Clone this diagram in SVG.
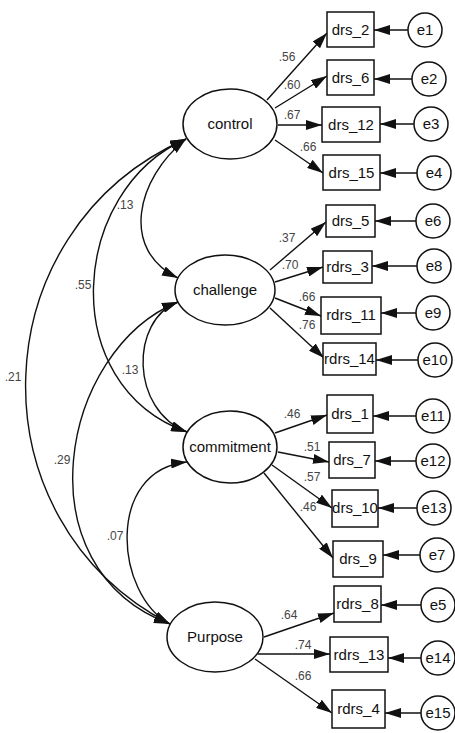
<svg xmlns="http://www.w3.org/2000/svg" width="455" height="733" viewBox="0 0 455 733">
<style>
.lv{fill:#fff;stroke:#111;stroke-width:1.5}
.ov{fill:#fff;stroke:#111;stroke-width:1.5}
.er{fill:#fff;stroke:#111;stroke-width:1.5}
.t{font-family:"Liberation Sans",Arial,sans-serif;font-size:15px;fill:#111;text-anchor:middle}
.c{font-family:"Liberation Sans",Arial,sans-serif;font-size:12px;fill:#444;text-anchor:middle}
.a{fill:none;stroke:#111;stroke-width:1.4;marker-end:url(#ah)}
.cv{fill:none;stroke:#111;stroke-width:1.4;marker-start:url(#ah);marker-end:url(#ah)}
</style>
<defs>
<marker id="ah" markerUnits="userSpaceOnUse" viewBox="0 0 16 10" refX="16" refY="5" markerWidth="16" markerHeight="10" orient="auto-start-reverse">
<path d="M0,0 L16,5 L0,10 z" fill="#111"/>
</marker>
</defs>
<rect width="455" height="733" fill="#fff"/>
<g id="connectors">
<path class="cv" d="M186,139 C136,179 120,250 178,278"/>
<path class="cv" d="M186,139 C70,190 55,385 187,432"/>
<path class="cv" d="M186,139 C-20,230 -30,520 170,624"/>
<path class="cv" d="M178,302 C130,320 130,410 187,432"/>
<path class="cv" d="M178,302 C60,350 20,568 170,624"/>
<path class="cv" d="M187,462 C105,470 115,595 170,624"/>
<line class="a" x1="267" y1="100" x2="327" y2="33"/>
<line class="a" x1="275" y1="108" x2="327" y2="76"/>
<line class="a" x1="278" y1="125" x2="322" y2="125"/>
<line class="a" x1="275" y1="140" x2="323" y2="173"/>
<line class="a" x1="270" y1="270" x2="326" y2="222"/>
<line class="a" x1="275" y1="282" x2="323" y2="267"/>
<line class="a" x1="275" y1="298" x2="321" y2="316"/>
<line class="a" x1="270" y1="308" x2="324" y2="358"/>
<line class="a" x1="275" y1="433" x2="327" y2="415"/>
<line class="a" x1="278" y1="452" x2="329" y2="462"/>
<line class="a" x1="272" y1="465" x2="332" y2="508"/>
<line class="a" x1="264" y1="473" x2="333" y2="558"/>
<line class="a" x1="264" y1="637" x2="334" y2="613"/>
<line class="a" x1="258" y1="654" x2="330" y2="654"/>
<line class="a" x1="255" y1="659" x2="332" y2="713"/>
<line class="a" x1="408" y1="30" x2="374" y2="30"/>
<line class="a" x1="412" y1="79" x2="374" y2="79"/>
<line class="a" x1="414" y1="124" x2="380" y2="124"/>
<line class="a" x1="417" y1="173" x2="380" y2="173"/>
<line class="a" x1="416" y1="221" x2="375" y2="221"/>
<line class="a" x1="417" y1="266" x2="372" y2="266"/>
<line class="a" x1="416" y1="313" x2="381" y2="313"/>
<line class="a" x1="418" y1="360" x2="376" y2="360"/>
<line class="a" x1="416" y1="416" x2="373" y2="416"/>
<line class="a" x1="416" y1="461" x2="375" y2="461"/>
<line class="a" x1="417" y1="508" x2="378" y2="508"/>
<line class="a" x1="420" y1="555" x2="383" y2="555"/>
<line class="a" x1="421" y1="605" x2="381" y2="605"/>
<line class="a" x1="421" y1="658" x2="388" y2="658"/>
<line class="a" x1="421" y1="713" x2="385" y2="713"/>
<text class="c" x="287" y="61">.56</text>
<text class="c" x="292" y="89">.60</text>
<text class="c" x="292" y="119">.67</text>
<text class="c" x="308" y="151">.66</text>
<text class="c" x="287" y="242">.37</text>
<text class="c" x="290" y="269">.70</text>
<text class="c" x="307" y="301">.66</text>
<text class="c" x="307" y="329">.76</text>
<text class="c" x="292" y="418">.46</text>
<text class="c" x="312" y="451">.51</text>
<text class="c" x="312" y="481">.57</text>
<text class="c" x="308" y="511">.46</text>
<text class="c" x="289" y="619">.64</text>
<text class="c" x="303" y="649">.74</text>
<text class="c" x="303" y="680">.66</text>
<text class="c" x="125" y="209">.13</text>
<text class="c" x="83" y="289">.55</text>
<text class="c" x="130" y="374">.13</text>
<text class="c" x="13" y="381">.21</text>
<text class="c" x="62" y="464">.29</text>
<text class="c" x="115" y="540">.07</text>
</g>
<g id="control"><ellipse class="lv" cx="230" cy="124" rx="47" ry="35"/><text class="t" x="230" y="129">control</text></g>
<g id="challenge"><ellipse class="lv" cx="225" cy="290" rx="50" ry="35"/><text class="t" x="225" y="295">challenge</text></g>
<g id="commitment"><ellipse class="lv" cx="230" cy="447" rx="47" ry="36"/><text class="t" x="230" y="452">commitment</text></g>
<g id="Purpose"><ellipse class="lv" cx="215" cy="637" rx="48" ry="35"/><text class="t" x="215" y="642">Purpose</text></g>
<g id="drs_2"><rect class="ov" x="327" y="12" width="47" height="35"/><text class="t" x="350.5" y="35">drs_2</text></g>
<g id="drs_6"><rect class="ov" x="327" y="60" width="47" height="35"/><text class="t" x="350.5" y="83">drs_6</text></g>
<g id="drs_12"><rect class="ov" x="322" y="107" width="58" height="35"/><text class="t" x="351" y="130">drs_12</text></g>
<g id="drs_15"><rect class="ov" x="323" y="155" width="57" height="35"/><text class="t" x="351.5" y="178">drs_15</text></g>
<g id="drs_5"><rect class="ov" x="326" y="205" width="49" height="32"/><text class="t" x="350.5" y="226">drs_5</text></g>
<g id="rdrs_3"><rect class="ov" x="323" y="251" width="49" height="32"/><text class="t" x="347.5" y="272">rdrs_3</text></g>
<g id="rdrs_11"><rect class="ov" x="321" y="297" width="60" height="37"/><text class="t" x="351" y="320">rdrs_11</text></g>
<g id="rdrs_14"><rect class="ov" x="323" y="343" width="53" height="32"/><text class="t" x="349.5" y="364">rdrs_14</text></g>
<g id="drs_1"><rect class="ov" x="327" y="395" width="46" height="38"/><text class="t" x="350" y="419">drs_1</text></g>
<g id="drs_7"><rect class="ov" x="329" y="442" width="46" height="36"/><text class="t" x="352" y="465">drs_7</text></g>
<g id="drs_10"><rect class="ov" x="332" y="490" width="46" height="37"/><text class="t" x="355" y="513">drs_10</text></g>
<g id="drs_9"><rect class="ov" x="333" y="541" width="50" height="36"/><text class="t" x="358" y="564">drs_9</text></g>
<g id="rdrs_8"><rect class="ov" x="334" y="586" width="47" height="36"/><text class="t" x="357.5" y="609">rdrs_8</text></g>
<g id="rdrs_13"><rect class="ov" x="330" y="637" width="58" height="35"/><text class="t" x="359" y="660">rdrs_13</text></g>
<g id="rdrs_4"><rect class="ov" x="332" y="690" width="53" height="38"/><text class="t" x="358.5" y="714">rdrs_4</text></g>
<g id="e1"><circle class="er" cx="425" cy="30" r="17"/><text class="t" x="425" y="35">e1</text></g>
<g id="e2"><circle class="er" cx="429" cy="79" r="17"/><text class="t" x="429" y="84">e2</text></g>
<g id="e3"><circle class="er" cx="431" cy="124" r="17"/><text class="t" x="431" y="129">e3</text></g>
<g id="e4"><circle class="er" cx="434" cy="173" r="17"/><text class="t" x="434" y="178">e4</text></g>
<g id="e6"><circle class="er" cx="433" cy="221" r="17"/><text class="t" x="433" y="226">e6</text></g>
<g id="e8"><circle class="er" cx="434" cy="266" r="17"/><text class="t" x="434" y="271">e8</text></g>
<g id="e9"><circle class="er" cx="433" cy="313" r="17"/><text class="t" x="433" y="318">e9</text></g>
<g id="e10"><circle class="er" cx="435" cy="360" r="17"/><text class="t" x="435" y="365">e10</text></g>
<g id="e11"><circle class="er" cx="433" cy="416" r="17"/><text class="t" x="433" y="421">e11</text></g>
<g id="e12"><circle class="er" cx="433" cy="461" r="17"/><text class="t" x="433" y="466">e12</text></g>
<g id="e13"><circle class="er" cx="434" cy="508" r="17"/><text class="t" x="434" y="513">e13</text></g>
<g id="e7"><circle class="er" cx="437" cy="555" r="17"/><text class="t" x="437" y="560">e7</text></g>
<g id="e5"><circle class="er" cx="438" cy="605" r="17"/><text class="t" x="438" y="610">e5</text></g>
<g id="e14"><circle class="er" cx="438" cy="658" r="17"/><text class="t" x="438" y="663">e14</text></g>
<g id="e15"><circle class="er" cx="438" cy="713" r="17"/><text class="t" x="438" y="718">e15</text></g>
</svg>
